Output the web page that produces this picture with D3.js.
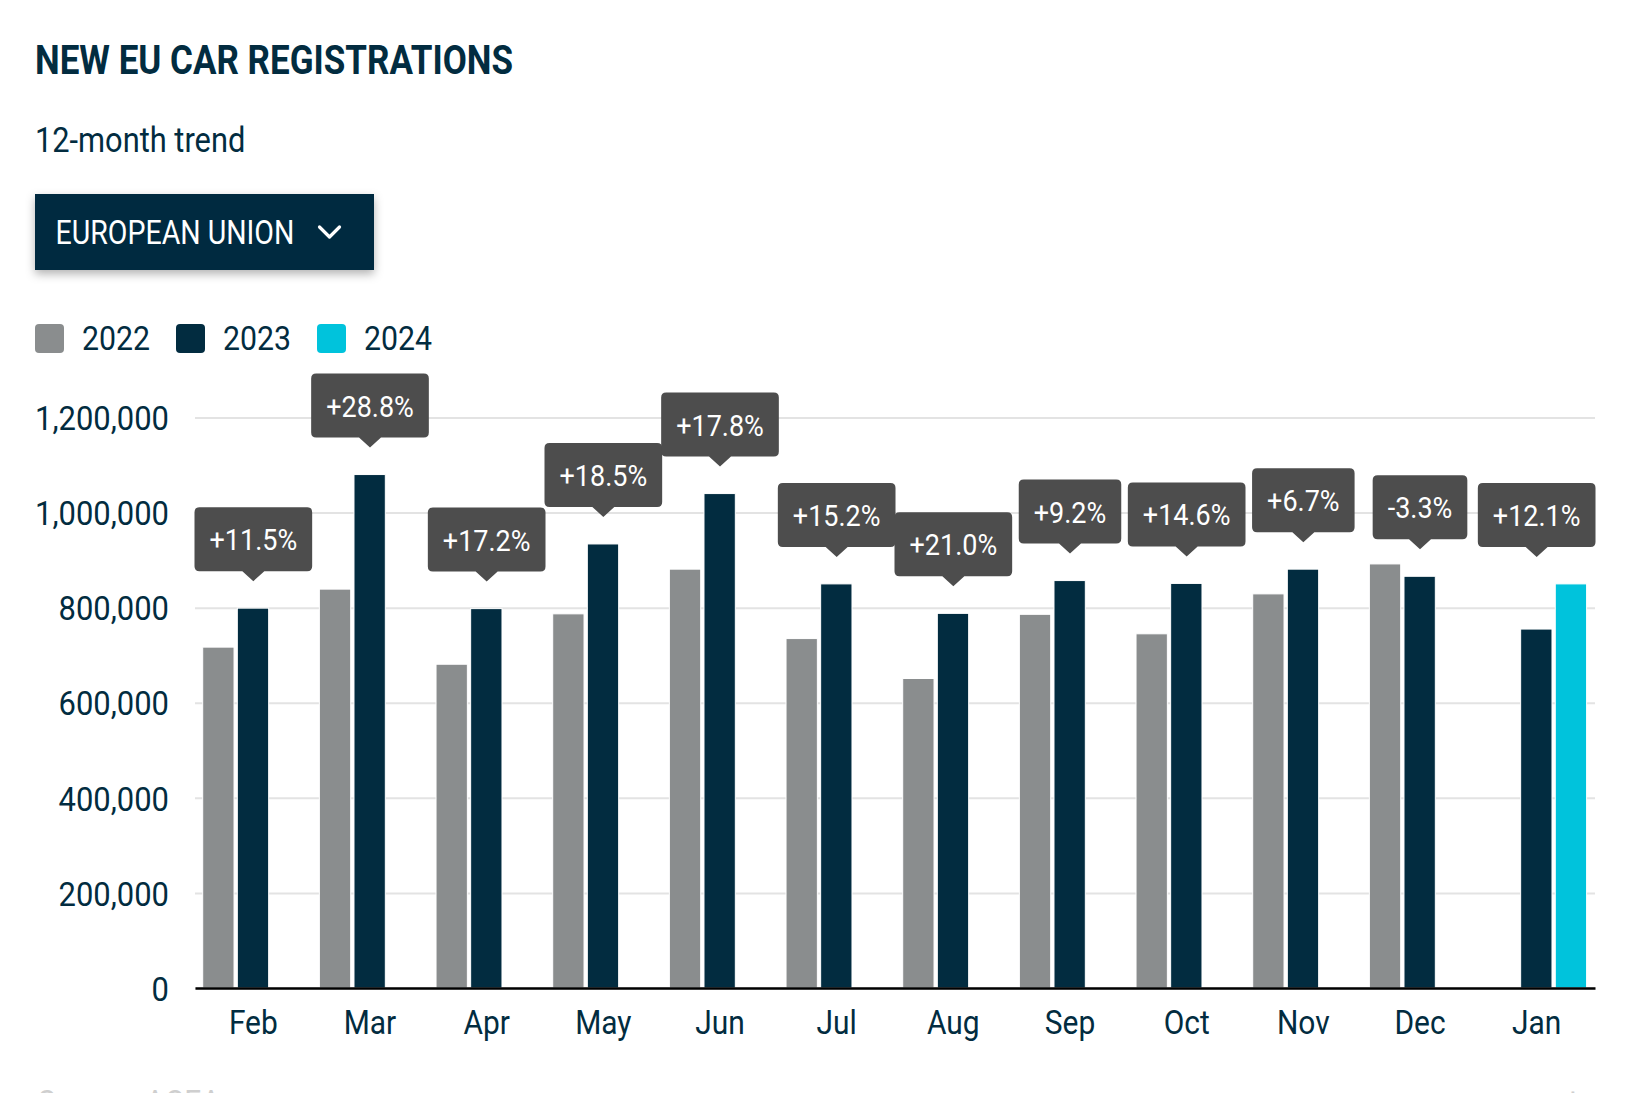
<!DOCTYPE html>
<html><head><meta charset="utf-8">
<script src="https://cdn.jsdelivr.net/npm/d3@7"></script>
<style>
html,body{margin:0;padding:0;background:#fff;overflow:hidden;}
svg{display:block;font-family:Roboto,"Noto Sans",sans-serif;}
</style></head><body>
<svg id="chart" width="1649" height="1093"></svg>
<script>
// ---- data ----
const months = ["Feb","Mar","Apr","May","Jun","Jul","Aug","Sep","Oct","Nov","Dec","Jan"];
const seriesNames = ["2022","2023","2024"];
const values2022 = [717000, 839000, 681000, 787000, 881000, 735000, 651000, 786000, 745000, 829000, 892000, null];
const values2023 = [799000, 1080000, 798000, 934000, 1040000, 850000, 788000, 857000, 851000, 881000, 866000, 755000];
const values2024 = [null, null, null, null, null, null, null, null, null, null, null, 850000];
const changeLabels = ["+11.5%","+28.8%","+17.2%","+18.5%","+17.8%","+15.2%","+21.0%","+9.2%","+14.6%","+6.7%","-3.3%","+12.1%"];
const yTicks = [0, 200000, 400000, 600000, 800000, 1000000, 1200000];
const seriesColors = ["#8a8d8e", "#022c40", "#00c3dc"];

// ---- setup ----
const NAVY = "#022c40";
const SX = 0.88; // condensed look
const svg = d3.select("#chart");

const defs = svg.append("defs");
const f = defs.append("filter").attr("id","shadow").attr("x","-20%").attr("y","-30%").attr("width","140%").attr("height","170%");
f.append("feDropShadow").attr("dx",0).attr("dy",4).attr("stdDeviation",5).attr("flood-color","#000").attr("flood-opacity",0.3);

function ctext(parent, x, y, str, size, opts = {}) {
  const g = parent.append("g").attr("transform", `translate(${x},${y}) scale(${opts.sx || SX},1)`);
  const t = g.append("text").text(str)
    .attr("font-size", size)
    .attr("font-weight", opts.weight || 400)
    .attr("fill", opts.fill || NAVY)
    .attr("text-anchor", opts.anchor || "start");
  return {g, t};
}

// Title (fit to width)
const title = ctext(svg, 35, 74, "NEW EU CAR REGISTRATIONS", 41, {weight: 700});
const tl = title.t.node().getComputedTextLength();
title.g.attr("transform", `translate(35,74) scale(${478 / tl},1)`);

// Subtitle
ctext(svg, 35, 152, "12-month trend", 35);

// Dropdown
svg.append("rect").attr("x",35).attr("y",194).attr("width",339).attr("height",76)
  .attr("fill",NAVY).attr("filter","url(#shadow)");
ctext(svg, 55.5, 243.5, "EUROPEAN UNION", 33, {fill:"#fff", sx: 0.865});
svg.append("path").attr("d","M319.5,227 L329.5,237 L339.5,227")
  .attr("fill","none").attr("stroke","#fff").attr("stroke-width",3.2).attr("stroke-linecap","round").attr("stroke-linejoin","round");

// Legend
let lx = 35;
seriesNames.forEach((s, i) => {
  svg.append("rect").attr("x", lx).attr("y", 324).attr("width", 29).attr("height", 29).attr("rx", 4)
    .attr("fill", seriesColors[i]);
  const tx = lx + 47;
  const lt = ctext(svg, tx, 349.5, s, 34, {sx: 0.89});
  const w = lt.t.node().getComputedTextLength() * 0.89;
  lx = tx + w + 26;
});

// Scales
const x0 = d3.scaleBand().domain(months).range([195, 1595]).padding(0);
const bw = x0.bandwidth();
const x1 = d3.scaleBand().domain(seriesNames).range([bw * 0.066, bw * 0.928]).paddingInner(0.095).paddingOuter(0);
const y = d3.scaleLinear().domain([0, 1200000]).range([988, 417.5]);

// Grid + y labels
const YSX = 0.91;
const yAxis = svg.append("g").attr("transform", "translate(195,0)")
  .call(d3.axisLeft(y).tickValues(yTicks).tickFormat(d3.format(",")).tickSize(-1400).tickPadding(0));
yAxis.select(".domain").remove();
yAxis.selectAll(".tick line").attr("stroke", "#e3e3e3").attr("stroke-width", 2);
yAxis.selectAll(".tick text")
  .attr("font-family", "Roboto, 'Noto Sans', sans-serif")
  .attr("font-size", 34).attr("fill", NAVY)
  .attr("x", -26 / YSX).attr("dy", "0.36em")
  .attr("transform", `scale(${YSX},1)`);

// Bars
const allSeries = [values2022, values2023, values2024];
const barData = [];
months.forEach((m, i) => {
  seriesNames.forEach((s, j) => {
    const v = allSeries[j][i];
    if (v != null) barData.push({m, s, v, c: seriesColors[j]});
  });
});
svg.append("g").selectAll("rect").data(barData).join("rect")
  .attr("x", d => x0(d.m) + x1(d.s))
  .attr("width", x1.bandwidth())
  .attr("y", d => y(d.v))
  .attr("height", d => y(0) - y(d.v))
  .attr("fill", d => d.c)
  .attr("stroke", "#ffffff").attr("stroke-width", 1);

// X axis
const xAxis = svg.append("g").attr("transform", "translate(0,988)")
  .call(d3.axisBottom(x0).tickSize(0).tickSizeOuter(0));
xAxis.select(".domain").attr("stroke", "#000").attr("stroke-width", 2.6);
xAxis.selectAll(".tick text")
  .attr("font-family", "Roboto, 'Noto Sans', sans-serif")
  .attr("font-size", 34).attr("fill", NAVY)
  .attr("dy", null).attr("y", 46)
  .attr("transform", `scale(${SX},1)`)
  .attr("x", 0);

// Change tooltips above the latest bar of each month
const tipG = svg.append("g");
months.forEach((m, i) => {
  const cur = values2024[i] != null ? values2024[i] : values2023[i];
  const cx = x0(m) + bw / 2;
  const tipY = y(cur) - 27;
  const boxB = tipY - 10;
  const boxT = boxB - 64;
  const g = tipG.append("g");
  const lab = ctext(g, cx, (boxT + boxB) / 2 + 11, changeLabels[i], 30, {fill: "#fff", anchor: "middle", sx: 0.9});
  const w = lab.t.node().getComputedTextLength() * 0.9 + 30;
  g.insert("path", ":first-child")
    .attr("d", `M${cx - w/2 + 5},${boxT} H${cx + w/2 - 5} Q${cx + w/2},${boxT} ${cx + w/2},${boxT + 5} V${boxB - 5} Q${cx + w/2},${boxB} ${cx + w/2 - 5},${boxB} H${cx + 11} L${cx},${tipY} L${cx - 11},${boxB} H${cx - w/2 + 5} Q${cx - w/2},${boxB} ${cx - w/2},${boxB - 5} V${boxT + 5} Q${cx - w/2},${boxT} ${cx - w/2 + 5},${boxT} Z`)
    .attr("fill", "#4d4d4d");
});

// Footer (mostly cut off, as in the reference)
ctext(svg, 38, 1114, "Source: ACEA", 34, {fill: "#cfcfcf"});
ctext(svg, 1595, 1114, "www.acea.auto", 34, {fill: "#cfcfcf", anchor: "end"});
</script>
</body></html>
